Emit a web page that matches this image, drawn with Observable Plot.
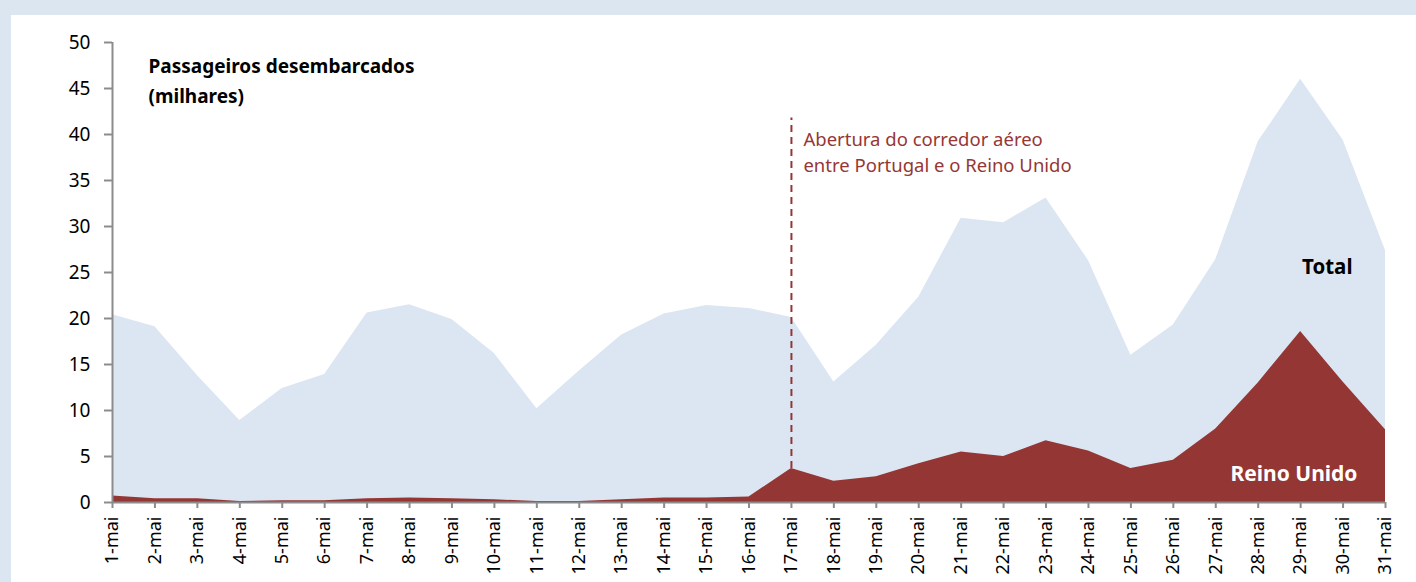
<!DOCTYPE html>
<html>
<head>
<meta charset="utf-8">
<script src="https://cdn.jsdelivr.net/npm/d3@7"></script>
<script src="https://cdn.jsdelivr.net/npm/@observablehq/plot@0.6"></script>
<style>
  html, body { margin: 0; padding: 0; background: #dce6f1; width: 1416px; height: 582px; overflow: hidden; }
  #panel { position: absolute; left: 11px; top: 15px; width: 1405px; height: 567px; background: #ffffff; }
  #chart { position: absolute; left: 0; top: 0; }
</style>
</head>
<body>
<div id="panel"></div>
<div id="chart"></div>
<script>
// ---- data ----
const days = d3.range(1, 32);
const dayLabels = days.map(d => `${d}-mai`);
const totalValues = [20.4, 19.1, 13.8, 8.9, 12.4, 13.9, 20.6, 21.5, 19.9, 16.2,
                     10.2, 14.3, 18.2, 20.5, 21.4, 21.1, 20.1, 13.1, 17.1, 22.3,
                     30.9, 30.4, 33.1, 26.3, 16.0, 19.3, 26.4, 39.2, 46.0, 39.4, 27.4];
const ukValues    = [0.7, 0.4, 0.4, 0.1, 0.2, 0.2, 0.4, 0.5, 0.4, 0.3,
                     0.1, 0.1, 0.3, 0.5, 0.5, 0.6, 3.7, 2.3, 2.8, 4.2,
                     5.5, 5.0, 6.7, 5.6, 3.7, 4.6, 8.0, 13.0, 18.6, 13.1, 7.9];
const yTicks = [0, 5, 10, 15, 20, 25, 30, 35, 40, 45, 50];
const titleText = "Passageiros desembarcados\n(milhares)";
const eventDay = [17];
const eventTop = [41.8];
const eventText = "Abertura do corredor aéreo\nentre Portugal e o Reino Unido";
const seriesLabels = ["Total", "Reino Unido"];

// ---- build table ----
const rows = days.map((d, i) => ({day: d, total: totalValues[i], uk: ukValues[i]}));
const eventRows = eventDay.map((d, i) => ({day: d, bottom: ukValues[days.indexOf(d)], top: eventTop[i]}));

const FONT = "'Noto Sans', sans-serif";
const axisGrey = "#8c8c8c";
const ukColor = "#943634";
const totalColor = "#dce6f2";

const chart = Plot.plot({
  width: 1416,
  height: 582,
  marginLeft: 112,
  marginRight: 31,
  marginTop: 42,
  marginBottom: 80,
  style: {background: "transparent", fontFamily: FONT, color: "#000", overflow: "visible"},
  x: {type: "linear", domain: [1, 31]},
  y: {domain: [0, 50]},
  marks: [
    Plot.areaY(rows, {x: "day", y1: 0, y2: "total", fill: totalColor, curve: "linear"}),
    Plot.areaY(rows, {x: "day", y1: 0, y2: "uk", fill: ukColor, curve: "linear"}),
    Plot.ruleX(eventRows, {x: "day", y1: "bottom", y2: "top", stroke: ukColor, strokeWidth: 2, strokeDasharray: "7,5"}),
    Plot.text([eventText], {x: eventDay[0], y: eventTop[0], dx: 12, dy: 9, lineAnchor: "top", textAnchor: "start",
      fill: "#953735", fontSize: 18.5, lineHeight: 1.42, fontFamily: FONT}),
    Plot.text([titleText], {frameAnchor: "top-left", dx: 36, dy: 9, lineAnchor: "top", textAnchor: "start",
      fontWeight: "bold", fontSize: 19, lineHeight: 1.6, fill: "#000", fontFamily: FONT}),
    Plot.text([seriesLabels[0]], {x: 31, y: 25.5, dx: -33, textAnchor: "end", fontWeight: "bold", fontSize: 20.5, fill: "#000", fontFamily: FONT}),
    Plot.text([seriesLabels[1]], {x: 31, y: 3.1, dx: -28, textAnchor: "end", fontWeight: "bold", fontSize: 21, fill: "#fff", fontFamily: FONT}),
    Plot.ruleY([0], {stroke: axisGrey, strokeWidth: 2}),
    Plot.ruleX([1], {stroke: axisGrey, strokeWidth: 2}),
    Plot.axisY({ticks: yTicks, tickSize: 8, tickPadding: 14, stroke: axisGrey, strokeWidth: 2, fill: "#000", fontSize: 19, label: null, fontFamily: FONT}),
    Plot.axisX({ticks: days, tickFormat: d => dayLabels[d - 1], tickRotate: -90, tickSize: 6, tickPadding: 8,
      stroke: axisGrey, strokeWidth: 2, fill: "#000", fontSize: 18, label: null, fontFamily: FONT})
  ]
});
document.getElementById("chart").appendChild(chart);
</script>
</body>
</html>
